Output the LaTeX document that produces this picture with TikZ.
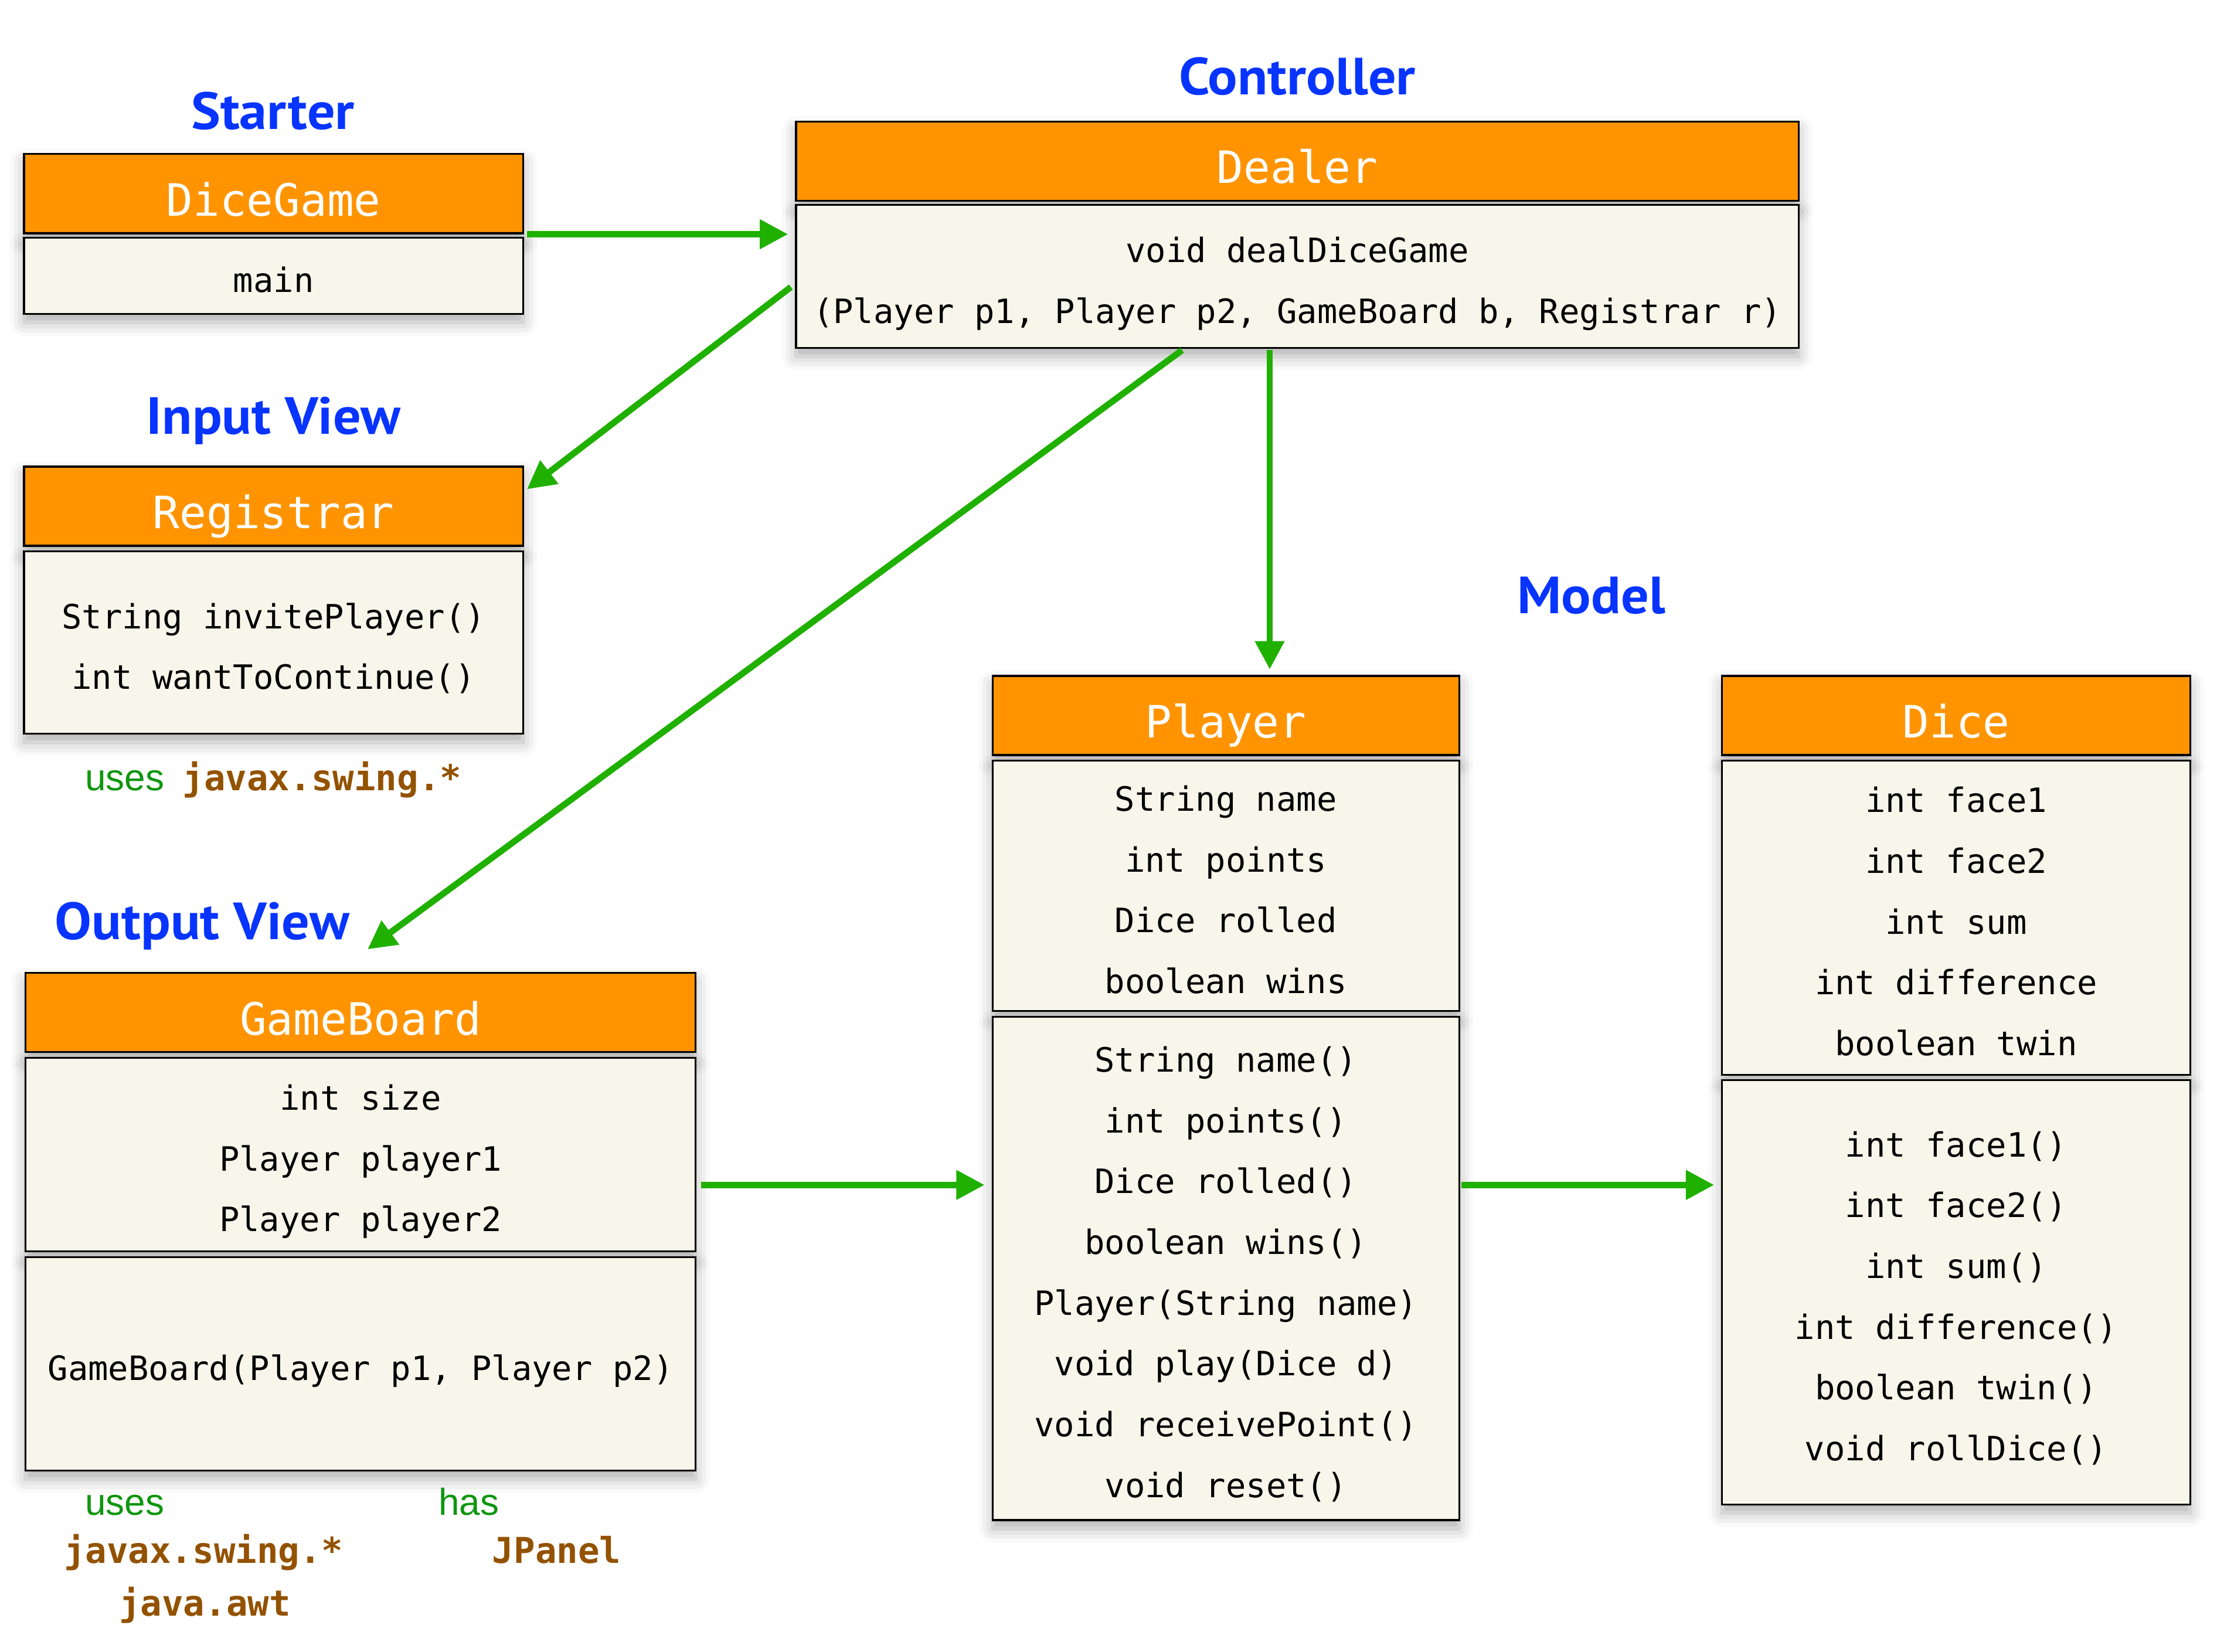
\documentclass[tikz,border=0pt]{standalone}
\usepackage{fontspec}
\setmonofont{DejaVu Sans Mono}
\newfontfamily\headfont[FakeStretch=1.055]{PT Sans}
\newfontfamily\labfont{Liberation Sans}
\usetikzlibrary{arrows.meta,shadows.blur,calc}
\definecolor{hdrorange}{RGB}{255,148,0}
\definecolor{bodybeige}{RGB}{248,246,234}
\definecolor{arrgreen}{RGB}{31,176,0}
\definecolor{titleblue}{RGB}{8,52,255}
\definecolor{labgreen}{RGB}{15,150,15}
\definecolor{pkgbrown}{RGB}{147,82,0}
\newcommand\utop{\rule{0pt}{29pt}}
\newcommand\ubot{\rule[-6pt]{0pt}{0pt}}
\begin{document}
\begin{tikzpicture}[x=1pt,y=-1pt,
  boxshadow/.style={blur shadow={shadow xshift=0pt,shadow yshift=-6pt,shadow blur radius=10pt,shadow opacity=32}},
  hdr/.style={draw=black,line width=1.3pt,fill=hdrorange,text=white,inner sep=0pt,boxshadow,
    text height=31.5pt,text depth=0pt,
    font=\ttfamily\fontsize{31.5pt}{36pt}\selectfont},
  body/.style={draw=black,line width=1.3pt,fill=bodybeige,text=black,inner sep=0pt,align=center,boxshadow,
    font=\ttfamily\fontsize{23.7pt}{43pt}\selectfont},
  title/.style={text=titleblue,anchor=base,font=\headfont\bfseries\fontsize{37pt}{40pt}\selectfont,inner sep=0pt},
  uselab/.style={text=labgreen,anchor=base west,font=\labfont\fontsize{26.5pt}{30pt}\selectfont,inner sep=0pt},
  pkglab/.style={text=pkgbrown,anchor=base west,font=\ttfamily\bfseries\fontsize{25.2pt}{30pt}\selectfont,inner sep=0pt},
  arr/.style={draw=arrgreen,line width=4.5pt,-{Triangle[length=20pt,width=20pt]}}
]
\useasboundingbox (0,0) rectangle (1568,1168);

% titles
\node[title] (tStarter) at (193,91.5) {Starter};
\node[title] (tController) at (917.5,67) {Controller};
\node[title] (tInput) at (193.5,307) {Input View};
\node[title] (tOutput) at (143,664.5) {Output View};
\node[title] (tModel) at (1125.5,434) {Model};

% DiceGame
\node[hdr,minimum width=353pt,minimum height=56pt] (dgH) at (193.5,137) {DiceGame};
\node[body,minimum width=353pt,minimum height=54pt] (dgB) at (193.5,195) {\utop main\ubot};

% Dealer
\node[hdr,minimum width=709pt,minimum height=56pt] (dlH) at (917.5,114) {Dealer};
\node[body,minimum width=709pt,minimum height=101pt] (dlB) at (917.5,195.5)
  {\utop void dealDiceGame\\(Player p1, Player p2, GameBoard b, Registrar r)\ubot};

% Registrar
\node[hdr,minimum width=353pt,minimum height=56pt] (rgH) at (193.5,358) {Registrar};
\node[body,minimum width=353pt,minimum height=129pt] (rgB) at (193.5,454.5)
  {\utop String invitePlayer()\\int wantToContinue()\ubot};
\node[uselab] (rgUses) at (60,559) {uses};
\node[pkglab] (rgPkg) at (129,559) {javax.swing.*};

% GameBoard
\node[hdr,minimum width=474pt,minimum height=56pt] (gbH) at (255,716) {GameBoard};
\node[body,minimum width=474pt,minimum height=137pt] (gbB1) at (255,816.5)
  {\utop int size\\Player player1\\Player player2\ubot};
\node[body,minimum width=474pt,minimum height=151pt] (gbB2) at (255,964.5)
  {\utop GameBoard(Player p1, Player p2)\ubot};
\node[uselab] (gbUses) at (60,1071.5) {uses};
\node[uselab] (gbHas) at (310,1071.5) {has};
\node[pkglab] (gbPkg1) at (45,1105.5) {javax.swing.*};
\node[pkglab] (gbPkg2) at (84,1143) {java.awt};
\node[pkglab] (gbPkg3) at (348,1105.5) {JPanel};

% Player
\node[hdr,minimum width=330pt,minimum height=56pt] (plH) at (867,506) {Player};
\node[body,minimum width=330pt,minimum height=177pt] (plB1) at (867,626.5)
  {\utop String name\\int points\\Dice rolled\\boolean wins\ubot};
\node[body,minimum width=330pt,minimum height=356pt] (plB2) at (867,897)
  {\utop String name()\\int points()\\Dice rolled()\\boolean wins()\\Player(String name)\\void play(Dice d)\\void receivePoint()\\void reset()\ubot};

% Dice
\node[hdr,minimum width=331pt,minimum height=56pt] (diH) at (1383.5,506) {Dice};
\node[body,minimum width=331pt,minimum height=222pt] (diB1) at (1383.5,649)
  {\utop int face1\\int face2\\int sum\\int difference\\boolean twin\ubot};
\node[body,minimum width=331pt,minimum height=300pt] (diB2) at (1383.5,914)
  {\utop int face1()\\int face2()\\int sum()\\int difference()\\boolean twin()\\void rollDice()\ubot};

% connectors
\coordinate (lvl) at (0,838);
\draw[arr] ($(dgH.south east)+(2,0)$) -- ($(dlB.west |- dgH.south)+(-5,0)$);
\draw[arr] ($(dlB.west)+(-3,7.5)$) -- ($(rgH.east)+(2,-12)$);
\draw[arr] ($(dlB.south)+(-81.5,1)$) -- ($(gbH.north)+(5,-16)$);
\draw[arr] ($(dlB.south)+(-19.5,1)$) -- ($(plH.north)+(31,-4)$);
\draw[arr] ($(gbB1.east |- lvl)+(3,0)$) -- ($(plB2.west |- lvl)+(-5,0)$);
\draw[arr] ($(plB2.east |- lvl)+(1,0)$) -- ($(diB2.west |- lvl)+(-5,0)$);
\end{tikzpicture}
\end{document}
